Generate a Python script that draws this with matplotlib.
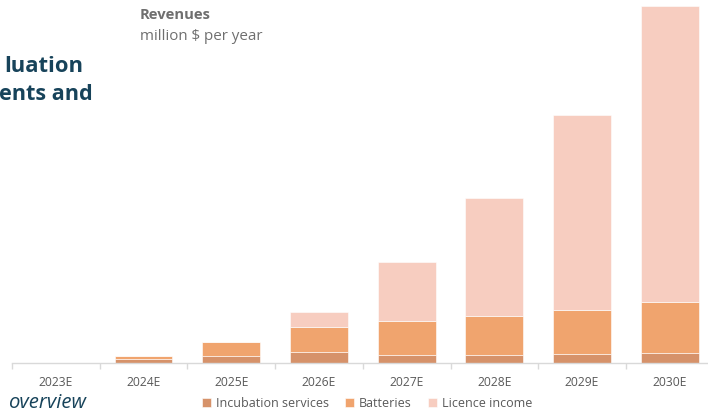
import matplotlib
matplotlib.use('Agg')
import matplotlib.pyplot as plt
import numpy as np

plt.rcParams['font.family'] = ['Open Sans', 'DejaVu Sans']

# data, million $ per year
years = ['2023E', '2024E', '2025E', '2026E', '2027E', '2028E', '2029E', '2030E']
incubation = [0.0, 1.3, 2.3, 3.7, 2.9, 2.9, 3.2, 3.5]
batteries = [0.0, 1.0, 4.7, 8.3, 11.1, 12.9, 14.6, 16.8]
licence = [0.0, 0.0, 0.0, 5.0, 19.8, 39.2, 65.0, 98.7]
series_names = ['Incubation services', 'Batteries', 'Licence income']
colors = ['#d6926a', '#f0a46e', '#f7cdc0']

W, H = 708, 415
fig = plt.figure(figsize=(W / 100, H / 100), dpi=100)
# axes spans a little past the right edge, like the slide crop
ax = fig.add_axes([12 / W, (H - 363.3) / H, 701.6 / W, 363.3 / H])

x = np.arange(len(years))
bottom = np.zeros(len(years))
handles = []
for vals, name, col in zip([incubation, batteries, licence], series_names, colors):
    b = ax.bar(x, vals, width=0.66, bottom=bottom, color=col, label=name,
               edgecolor='white', linewidth=0.4)
    handles.append(b)
    bottom += np.array(vals)

ax.set_xlim(-0.5, len(years) - 0.5)
ax.set_ylim(0, 121.1)
for s in ['top', 'right', 'left']:
    ax.spines[s].set_visible(False)
ax.spines['bottom'].set_color('#d9d9d9')
ax.spines['bottom'].set_linewidth(1.0)
ax.set_yticks([])
ax.set_xticks(x)
ax.set_xticklabels(years, color='#595959', fontsize=8.7)
ax.tick_params(axis='x', length=0, pad=9)
ax.set_xticks(np.arange(-0.5, len(years), 1), minor=True)
ax.tick_params(axis='x', which='minor', length=4, color='#d9d9d9', width=1)

fig.legend(handles=handles, labels=series_names, loc='center left',
           bbox_to_anchor=(202 / W, 1 - 403 / H), ncol=3, frameon=False,
           fontsize=9, handlelength=0.75, handleheight=0.75, handletextpad=0.35,
           columnspacing=1.3, labelcolor='#595959', borderaxespad=0, borderpad=0)

fig.text(140 / W, 1 - 15 / H, 'Revenues', fontsize=10.6, fontweight='bold',
         color='#6f6f6f', va='center')
fig.text(140 / W, 1 - 37 / H, 'million $ per year', fontsize=10.9,
         color='#6f6f6f', va='center')

teal = '#17435a'
fig.text(83 / W, 1 - 66 / H, 'luation', fontsize=15.8, fontweight='bold',
         color=teal, ha='right', va='center')
fig.text(93 / W, 1 - 94 / H, 'ents and', fontsize=15.6, fontweight='bold',
         color=teal, ha='right', va='center')
fig.text(86 / W, 1 - 403 / H, 'overview', fontsize=14.6, style='italic',
         color=teal, ha='right', va='center')

fig.savefig('out.png', dpi=100)
